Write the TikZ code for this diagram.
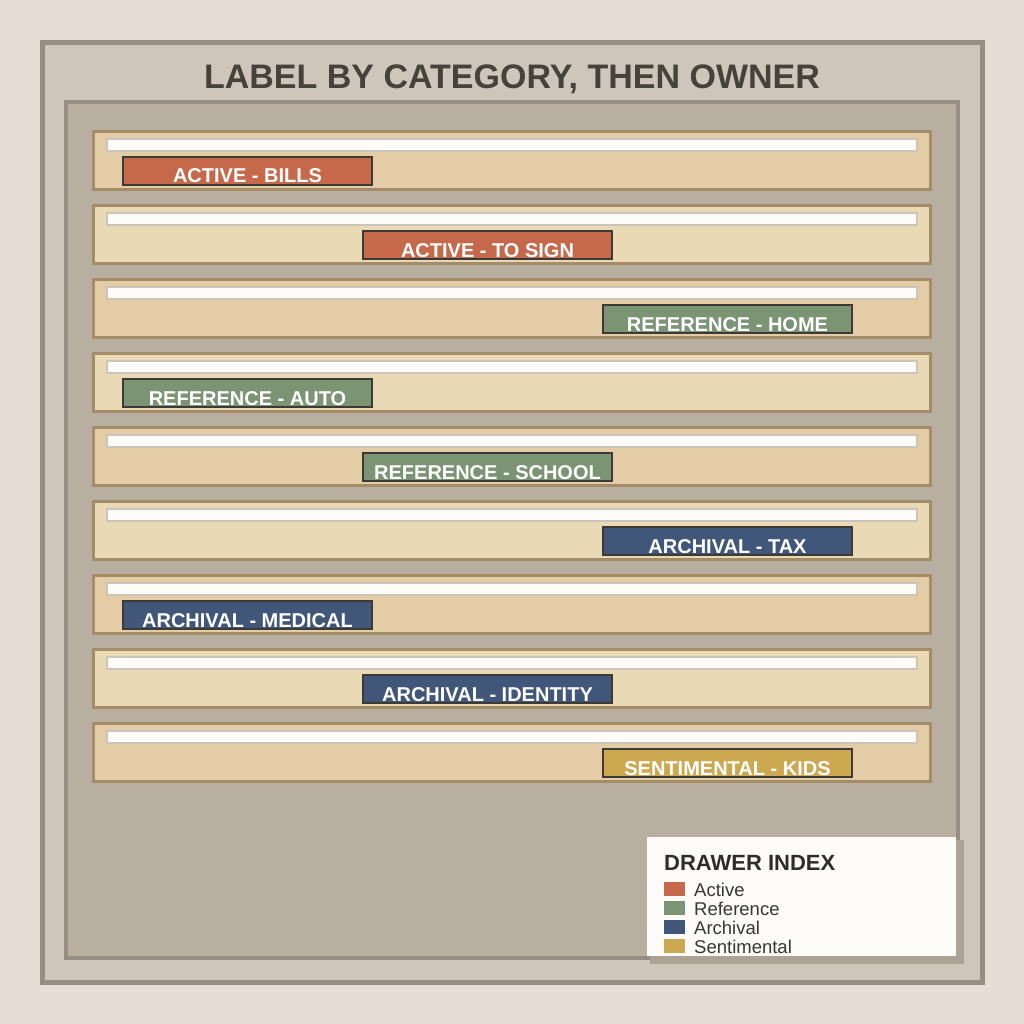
\documentclass[tikz,border=0pt]{standalone}
\usepackage{fontspec}
\setmainfont{Liberation Sans}
\definecolor{bgc}{HTML}{E6DDD4}
\definecolor{outerc}{HTML}{CFC6BB}
\definecolor{framec}{HTML}{978E83}
\definecolor{innerc}{HTML}{B8AFA0}
\definecolor{folderA}{HTML}{E3CCA6}
\definecolor{folderB}{HTML}{E9D9B5}
\definecolor{folderline}{HTML}{A48C68}
\definecolor{stripc}{HTML}{FCFBF8}
\definecolor{stripline}{HTML}{CCC5BC}
\definecolor{tabline}{HTML}{3C3A36}
\definecolor{activec}{HTML}{C5694A}
\definecolor{refc}{HTML}{7A9474}
\definecolor{archc}{HTML}{40577A}
\definecolor{sentc}{HTML}{CCA850}
\definecolor{titlec}{HTML}{46413A}
\definecolor{legtitle}{HTML}{2F2D2A}
\definecolor{legtext}{HTML}{3A3733}
\definecolor{shadowc}{HTML}{ABA396}
\begin{document}
\begin{tikzpicture}[x=1pt,y=-1pt,
  folderbox/.style={draw=folderline,line width=3pt},
  stripbox/.style={draw=stripline,fill=stripc,line width=2pt},
  tabbox/.style={draw=tabline,line width=2pt,minimum width=249pt,minimum height=28pt,inner sep=0pt,outer sep=0pt},
  tabtext/.style={text=white,font=\bfseries\fontsize{20}{20}\selectfont,anchor=base,inner sep=0pt},
  swatch/.style={minimum width=21pt,minimum height=14pt,inner sep=0pt,anchor=north west},
  legitem/.style={anchor=base west,text=legtext,font=\fontsize{18.5}{18.5}\selectfont,inner sep=0pt}]
\fill[bgc] (0,0) rectangle (1024,1024);
\useasboundingbox (0,0) rectangle (1024,1024);
\draw[fill=outerc,draw=framec,line width=5pt] (42.5,42.5) rectangle (982.5,982.5);
\node[text=titlec,font=\bfseries\fontsize{34}{34}\selectfont,anchor=base,inner sep=0pt] (title) at (512,89) {LABEL BY CATEGORY, THEN OWNER};
\draw[fill=innerc,draw=framec,line width=4pt] (66,102) rectangle (958,958);
\foreach \i/\tx/\col/\lab in {0/122/activec/ACTIVE - BILLS,1/362/activec/ACTIVE - TO SIGN,2/602/refc/REFERENCE - HOME,3/122/refc/REFERENCE - AUTO,4/362/refc/REFERENCE - SCHOOL,5/602/archc/ARCHIVAL - TAX,6/122/archc/ARCHIVAL - MEDICAL,7/362/archc/ARCHIVAL - IDENTITY,8/602/sentc/SENTIMENTAL - KIDS}{
  \pgfmathsetmacro{\ty}{130+74*\i}
  \pgfmathtruncatemacro{\rowpar}{mod(\i,2)}
  \ifnum\rowpar=0 \def\fc{folderA}\else\def\fc{folderB}\fi
  \draw[folderbox,fill=\fc] (93.5,\ty+1.5) rectangle (930.5,\ty+59.5);
  \draw[stripbox] (107,\ty+9) rectangle (917,\ty+21);
  \node[tabbox,fill=\col] (tab\i) at (\tx+125.5,\ty+41) {};
  \node[tabtext] (lab\i) at (\tx+125.5,\ty+53) {\lab};
}
\fill[shadowc] (650,840) rectangle (964,964);
\node[fill=stripc,minimum width=309pt,minimum height=119pt,anchor=north west,inner sep=0pt] (legend) at (647,837) {};
\node[anchor=base west,text=legtitle,font=\bfseries\fontsize{22}{22}\selectfont,inner sep=0pt] (legt) at (664,870) {DRAWER INDEX};
\foreach \j/\col/\lab in {0/activec/Active,1/refc/Reference,2/archc/Archival,3/sentc/Sentimental}{
  \node[swatch,fill=\col] (sw\j) at (664,882+19*\j) {};
  \node[legitem] (li\j) at (694,896+19*\j) {\lab};
}
\end{tikzpicture}
\end{document}
